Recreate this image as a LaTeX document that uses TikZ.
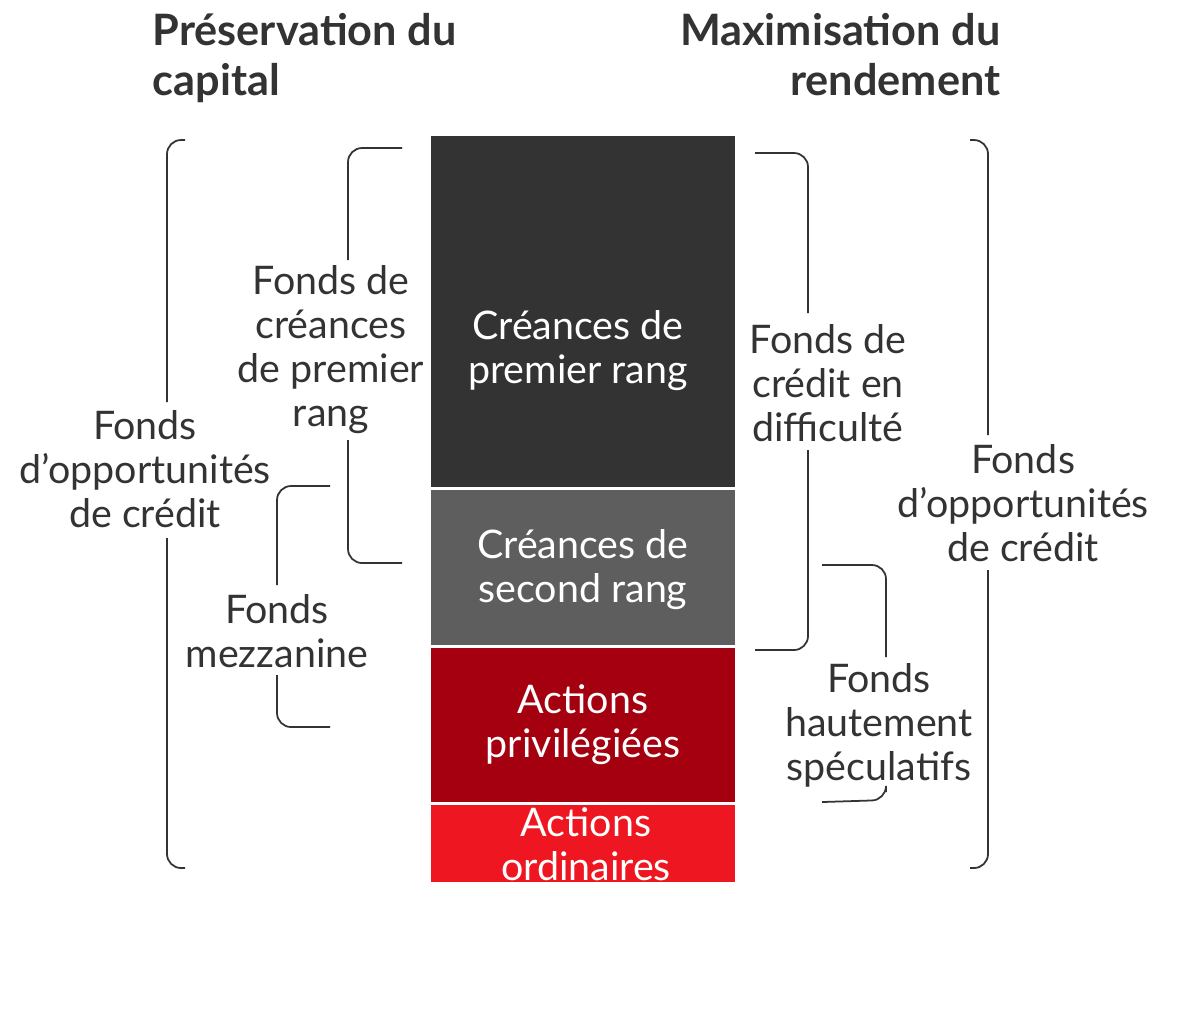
\documentclass[tikz,border=0pt]{standalone}
\usepackage{fontspec}
\setmainfont{Lato}
\definecolor{txt}{HTML}{333333}
\definecolor{b1}{HTML}{333333}
\definecolor{b2}{HTML}{5E5E5E}
\definecolor{b3}{HTML}{A50010}
\definecolor{b4}{HTML}{EE1620}
\begin{document}
\begin{tikzpicture}[x=0.01cm,y=-0.01cm,
  lbl/.style={text=txt,font=\fontsize{11.2pt}{12.5pt}\selectfont,align=center,inner sep=0pt},
  wlbl/.style={lbl,text=white},
  ttl/.style={text=txt,font=\fontsize{12.3pt}{14.2pt}\selectfont\bfseries,inner sep=0pt},
  brk/.style={draw=txt,line width=0.5pt,rounded corners=4pt}]
\useasboundingbox (0,0) rectangle (1177,1020);
\fill[b1] (431,136) rectangle (735,487);
\fill[b2] (431,490) rectangle (735,645);
\fill[b3] (431,648) rectangle (735,802);
\fill[b4] (431,805) rectangle (735,882);
\node[wlbl] (c1) at (578,351) {Créances de\\premier rang};
\node[wlbl] (c2) at (583,570) {Créances de\\second rang};
\node[wlbl] (c3) at (583,725) {Actions\\privilégiées};
\node[wlbl] (c4) at (586,844) {Actions\\ordinaires};
\node[ttl,anchor=north west,align=left] (t1) at (152,13) {Préservation du\\capital};
\node[ttl,anchor=north east,align=right] (t2) at (1001,13) {Maximisation du\\rendement};
% left outer
\node[lbl] (lo) at (145,469) {Fonds\\d’opportunités\\de crédit};
\draw[brk] (185,140) -- (167,140) -- (167,402);
\draw[brk] (167,538) -- (167,868) -- (185,868);
% premier rang
\node[lbl] (lp) at (331,350) {Fonds de\\créances\\de premier\\rang};
\draw[brk] (402,148) -- (348,148) -- (348,260);
\draw[brk] (348,440) -- (348,563) -- (402,563);
% mezzanine
\node[lbl] (lm) at (277,631) {Fonds\\mezzanine};
\draw[brk] (330,486) -- (277,486) -- (277,585);
\draw[brk] (277,675) -- (277,727) -- (330,727);
% distress
\node[lbl] (rd) at (828,383) {Fonds de\\crédit en\\difficulté};
\draw[brk] (755,153) -- (808,153) -- (808,313);
\draw[brk] (808,450) -- (808,650) -- (755,650);
% speculatifs
\node[lbl] (rs) at (879,725) {Fonds\\hautement\\spéculatifs};
\draw[brk] (822,565) -- (886,565) -- (886,657);
\draw[brk] (886,792) -- (886,800) -- (822,802);
% right outer
\node[lbl] (ro) at (1023,503) {Fonds\\d’opportunités\\de crédit};
\draw[brk] (970,140) -- (988,140) -- (988,435);
\draw[brk] (988,570) -- (988,868) -- (970,868);
\end{tikzpicture}
\end{document}
